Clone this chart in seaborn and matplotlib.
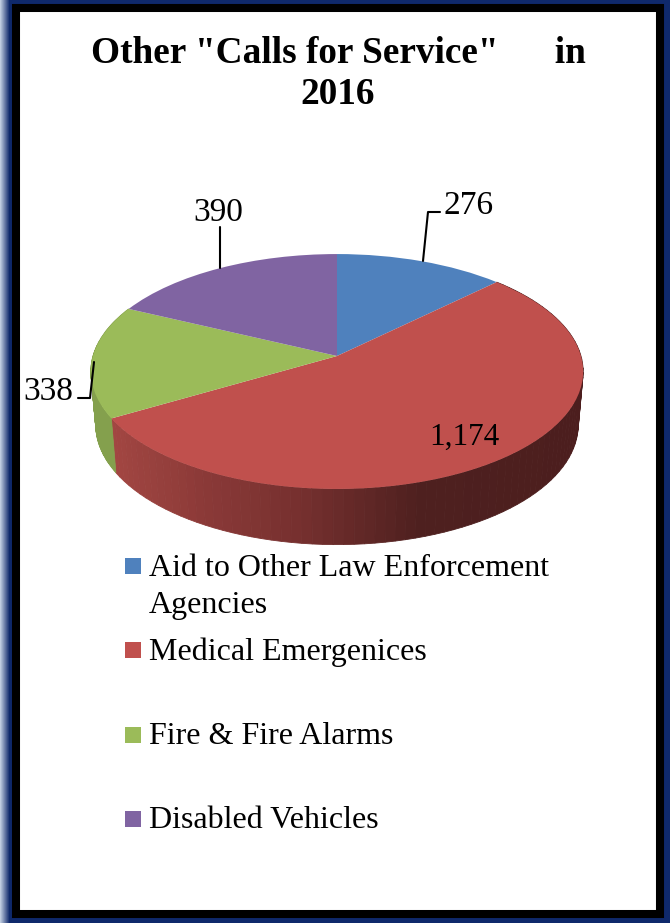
import numpy as np
import matplotlib
matplotlib.use('Agg')
import matplotlib.pyplot as plt
from matplotlib.patches import Rectangle
from matplotlib.transforms import Transform
import seaborn as sns

# data
categories = ['Aid to Other Law Enforcement\nAgencies', 'Medical Emergenices',
              'Fire & Fire Alarms', 'Disabled Vehicles']
values = [276, 1174, 338, 390]
value_labels = ['276', '1,174', '338', '390']
colors = ['#4f81bd', '#c0504d', '#9bbb59', '#8064a2']
title_text = 'Other "Calls for Service"      in\n2016'

sns.set_theme(style='white')
plt.rcParams['font.family'] = ['Liberation Serif', 'DejaVu Serif']
palette = sns.color_palette(colors)

# perspective of the pie top, unit disc -> pixels
CX, CY = 337, 356
A, B, K = 244, 115.4, 0.132
DEPTH, SX, SY = 53, 0.98, 1.02


class PieTop(Transform):
    input_dims = 2
    output_dims = 2

    def transform_non_affine(self, xy):
        xy = np.asarray(xy, dtype=float)
        w = 1 + K * xy[:, 1]
        return np.column_stack([CX + A * xy[:, 0] / w, CY - B * xy[:, 1] / w])


def project(ang, bottom=False):
    u, v = np.cos(ang), np.sin(ang)
    w = 1 + K * v
    x = A * u / w
    y = -B * v / w
    if bottom:
        return CX + SX * x, CY + DEPTH + SY * y
    return CX + x, CY + y


fig = plt.figure(figsize=(6.7, 9.23), dpi=100)
ax = fig.add_axes([0, 0, 1, 1])

wedges, _ = ax.pie(values, colors=palette, startangle=90, counterclock=False, radius=1,
                   wedgeprops={'linewidth': 0, 'edgecolor': 'none'})
ax.set_aspect('auto')
ax.set_xlim(0, 670)
ax.set_ylim(923, 0)
ax.axis('off')

# side wall, shaded strip by strip
red_x = [113, 200, 300, 420, 584]
red_r = [162, 140, 118, 78, 76]
red_g = [70, 58, 48, 32, 30]
red_b = [66, 56, 47, 31, 30]
for wedge, i in zip(wedges, range(len(values))):
    if i not in (1, 2):
        continue
    a = np.radians(np.linspace(min(wedge.theta1, wedge.theta2), max(wedge.theta1, wedge.theta2), 90))
    for a0, a1 in zip(a[:-1], a[1:]):
        x0, y0 = project(a0)
        x1, y1 = project(a1)
        x2, y2 = project(a1, True)
        x3, y3 = project(a0, True)
        xm = (x0 + x1) / 2
        if i == 1:
            c = (np.interp(xm, red_x, red_r) / 255, np.interp(xm, red_x, red_g) / 255,
                 np.interp(xm, red_x, red_b) / 255)
        else:
            c = (132 / 255, 160 / 255, 77 / 255)
        ax.fill([x0, x1, x2, x3], [y0, y1, y2, y3], color=c, lw=0.6, zorder=1)

# pie top
top = PieTop() + ax.transData
for wedge in wedges:
    wedge.set_transform(top)
    wedge.set_zorder(2)
    wedge.set_clip_on(False)

# data labels and leader lines
ax.text(469, 206, value_labels[0], fontsize=24, ha='center', va='center', color='black', zorder=4)
ax.text(464.5, 437, value_labels[1], fontsize=22.5, ha='center', va='center', color='black', zorder=4)
ax.text(48.5, 392, value_labels[2], fontsize=24, ha='center', va='center', color='black', zorder=4)
ax.text(218, 213, value_labels[3], fontsize=24, ha='center', va='center', color='black', zorder=4)
ax.plot([423, 428, 440], [261, 212, 212], color='black', lw=1.5, zorder=3)
ax.plot([78, 90, 94], [398, 398, 362], color='black', lw=1.5, zorder=3)
ax.plot([220, 220], [268, 227], color='black', lw=1.5, zorder=3)

# title
ax.text(338, 74, title_text, fontsize=26.8, fontweight='bold', ha='center', va='center',
        linespacing=1.25, color='black')

# legend
legend_y = [566, 650, 735, 819]
for cat, c, y in zip(categories, palette, legend_y):
    ax.add_patch(Rectangle((125, y - 8), 16, 16, facecolor=c, edgecolor='none'))
    lines = cat.split('\n')
    for j, line in enumerate(lines):
        ax.text(149, y + 2 + j * 37, line, fontsize=23, ha='left', va='center', color='black')

# frame: blue bevel outside, black band, white inside
navy = np.array([0.06, 0.16, 0.42])
ax.add_patch(Rectangle((0, 0), 670, 4, facecolor=navy, edgecolor='none', zorder=5))
ax.add_patch(Rectangle((0, 918), 670, 5, facecolor=navy, edgecolor='none', zorder=5))
ax.add_patch(Rectangle((664, 0), 6, 923, facecolor=navy, edgecolor='none', zorder=5))
for x in range(12):
    t = min(x / 9, 1)
    ax.add_patch(Rectangle((x, 0), 1, 923, facecolor=(1 - t) * np.array([0.75, 0.8, 0.88]) + t * navy,
                           edgecolor='none', zorder=5))
ax.add_patch(Rectangle((16, 8), 644, 906, fill=False, edgecolor='black', lw=5.8, zorder=6))

fig.savefig('out.png', dpi=100)
